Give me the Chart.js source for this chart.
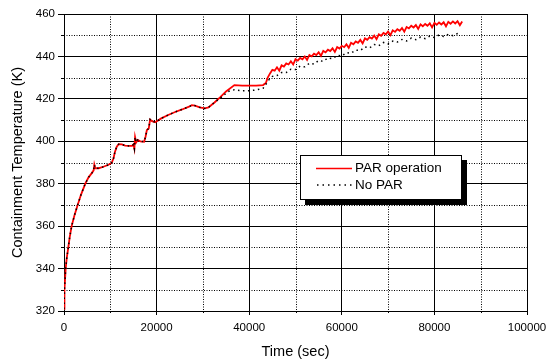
<!DOCTYPE html>
<html>
<head>
<meta charset="utf-8">
<script src="https://cdn.jsdelivr.net/npm/chart.js@4.4.1/dist/chart.umd.min.js"></script>
<style>
html,body{margin:0;padding:0;background:#fff;}
#wrap{position:relative;width:547px;height:362px;}
</style>
</head>
<body>
<div id="wrap"><canvas id="c" width="547" height="362"></canvas></div>
<script>
// ---- data ----
const seriesNames = ["PAR operation", "No PAR"];
const xTickLabels = ["0", "20000", "40000", "60000", "80000", "100000"];
const yTickLabels = ["320", "340", "360", "380", "400", "420", "440", "460"];

const commonTime = [0, 100, 360, 600, 930, 1250, 1650, 2250, 2950, 3700, 4600, 5300, 6000, 6400, 6550, 6750,
  7500, 8500, 9500, 10300, 10700, 11000, 11400, 11800, 12500, 13200, 14000, 14700, 15000, 15200, 15350, 15600,
  15900, 16500, 17300, 17600, 17900, 18300, 18600, 19000, 19700, 21000, 22500, 24000, 25500, 27000, 27600,
  28300, 29300, 30400, 31200, 32500];
const commonTemp = [321, 330, 340, 345, 350, 355, 360, 365, 370, 375, 380, 383, 385, 386.3, 389, 387.3,
  387.3, 388, 388.8, 389.8, 392, 395, 397.5, 398.6, 398.5, 398, 397.8, 397.8, 398.5, 396.5, 402, 399.5,
  400.6, 400, 399.8, 402, 405.3, 406, 410.3, 409.5, 409, 410.8, 412.4, 413.8, 415, 416.3, 417,
  416.8, 416, 415.5, 416, 418.3];

const parTimeLate = [33700, 35000, 36800, 38500, 40000, 41500, 43000, 43600, 44000, 44500, 45000, 45500, 46000, 46500,
  47000, 47500, 48000, 48500, 49000, 49500, 50000, 50500, 51000, 51500, 52000, 52500, 53000, 53500, 54000, 54500,
  55000, 55500, 56000, 56500, 57000, 57500, 58000, 58500, 59000, 59500, 60000, 60500, 61000, 61500, 62000, 62500,
  63000, 63500, 64000, 64500, 65000, 65500, 66000, 66500, 67000, 67500, 68000, 68500, 69000, 69500, 70000, 70500,
  71000, 71500, 72000, 72500, 73000, 73500, 74000, 74500, 75000, 75500, 76000, 76500, 77000, 77500, 78000, 78500,
  79000, 79500, 80000, 80500, 81000, 81500, 82000, 82500, 83000, 83500, 84000, 84500, 85000, 85500, 86000];
const parTempLate = [420.7, 423.5, 426.5, 426.2, 426.2, 426.2, 426.5, 427.5, 430.0, 432.0, 433.7, 433.3, 434.9, 433.3,
  435.8, 435.25, 436.7, 436.2, 437.7, 436.2, 438.7, 438.0, 439.3, 438.65, 440.0, 438.35, 440.7, 440.0, 441.3, 440.65,
  442.0, 440.3, 442.6, 441.9, 443.2, 442.5, 443.8, 442.1, 444.4, 443.7, 445.0, 444.35, 445.7, 444.05, 446.4, 445.75,
  447.1, 446.45, 447.8, 446.15, 448.5, 447.8, 449.1, 448.45, 449.8, 448.1, 450.4, 449.75, 451.1, 450.4, 451.7, 450.0,
  452.3, 451.55, 452.8, 452.1, 453.4, 451.65, 453.9, 453.2, 454.5, 453.65, 454.8, 452.95, 455.1, 454.2, 455.3, 454.45,
  455.6, 453.7, 455.8, 454.9, 456.0, 455.05, 456.1, 454.2, 456.3, 455.4, 456.5, 455.55, 456.6, 454.7, 456.5];

const noParTimeLate = [34000, 35500, 36800, 38500, 40000, 41500, 43000, 44500, 45000, 46000, 47000, 48000, 49000,
  50000, 51000, 52000, 53000, 54000, 55000, 56000, 57000, 58000, 59000, 60000, 61000, 62000, 63000, 64000, 65000,
  66000, 67000, 68000, 69000, 70000, 71000, 72000, 73000, 74000, 75000, 76000, 77000, 78000, 79000, 80000, 81000,
  82000, 83000, 84000, 85000, 85500];
const noParTempLate = [420.8, 423.5, 424.3, 423.8, 423.8, 424.2, 425, 429.7, 430.6, 431.0, 432.4, 432.4, 434.0,
  433.8, 435.4, 435.1, 436.8, 436.4, 438.1, 437.7, 439.3, 438.9, 440.5, 440.2, 441.8, 441.5, 443.0, 442.8, 444.5,
  444.0, 445.6, 445.1, 446.6, 445.9, 447.2, 446.8, 448.0, 447.3, 448.6, 447.9, 449.1, 448.4, 449.6, 448.9, 450.1,
  449.4, 450.4, 449.8, 450.8, 450.3];

const parTime = commonTime.concat(parTimeLate);
const parTemp = commonTemp.concat(parTempLate);
const noParTime = commonTime.concat(noParTimeLate);
const noParTemp = commonTemp.concat(noParTempLate);

const FONT = "'Liberation Sans', Arial, sans-serif";

function pts(xs, ys) { return xs.map((x, i) => ({x: x, y: ys[i]})); }

const decor = {
  id: 'decor',
  beforeDatasetsDraw(chart) {
    const ctx = chart.ctx, a = chart.chartArea;
    const xs = chart.scales.x, ys = chart.scales.y;
    ctx.save();
    ctx.strokeStyle = '#000';
    ctx.lineWidth = 1;
    for (let i = 0; i < ys.ticks.length - 1; i++) {
      const v = (ys.ticks[i].value + ys.ticks[i + 1].value) / 2;
      const p = Math.round(ys.getPixelForValue(v)) + 0.5;
      ctx.setLineDash([1, 1.5]);
      ctx.beginPath(); ctx.moveTo(a.left, p); ctx.lineTo(a.right, p); ctx.stroke();
      ctx.setLineDash([]);
      ctx.beginPath(); ctx.moveTo(a.left - 3, p); ctx.lineTo(a.left, p); ctx.stroke();
    }
    for (let i = 0; i < xs.ticks.length - 1; i++) {
      const v = (xs.ticks[i].value + xs.ticks[i + 1].value) / 2;
      const p = Math.round(xs.getPixelForValue(v)) + 0.5;
      ctx.setLineDash([1, 1.5]);
      ctx.beginPath(); ctx.moveTo(p, a.top); ctx.lineTo(p, a.bottom); ctx.stroke();
      ctx.setLineDash([]);
      ctx.beginPath(); ctx.moveTo(p, a.bottom); ctx.lineTo(p, a.bottom + 2); ctx.stroke();
    }
    ctx.restore();
  },
  afterDraw(chart) {
    const ctx = chart.ctx;
    ctx.save();
    const bx = 300, by = 155, bw = 161, bh = 44;
    ctx.fillStyle = '#000';
    ctx.fillRect(bx + 5, by + 5, bw + 1, bh + 1);
    ctx.fillStyle = '#fff';
    ctx.fillRect(bx, by, bw, bh);
    ctx.strokeStyle = '#000';
    ctx.lineWidth = 1;
    ctx.strokeRect(bx + 0.5, by + 0.5, bw, bh);
    ctx.strokeStyle = '#ff0000';
    ctx.lineWidth = 1.5;
    ctx.beginPath(); ctx.moveTo(316, 168.5); ctx.lineTo(352, 168.5); ctx.stroke();
    ctx.strokeStyle = '#000';
    ctx.setLineDash([1.5, 4]);
    ctx.beginPath(); ctx.moveTo(317, 185); ctx.lineTo(352, 185); ctx.stroke();
    ctx.setLineDash([]);
    ctx.fillStyle = '#000';
    ctx.font = '13.5px ' + FONT;
    ctx.textBaseline = 'middle';
    ctx.textAlign = 'left';
    ctx.fillText(seriesNames[0], 355, 168.5);
    ctx.fillText(seriesNames[1], 355, 185);
    ctx.restore();
  }
};

new Chart(document.getElementById('c'), {
  type: 'line',
  data: {
    datasets: [
      {
        label: seriesNames[1],
        data: pts(noParTime, noParTemp),
        borderColor: '#000',
        borderWidth: 1.5,
        borderDash: [1.5, 3.5],
        pointRadius: 0,
        tension: 0,
        fill: false
      },
      {
        label: seriesNames[0],
        data: pts(parTime, parTemp),
        borderColor: '#ff0000',
        borderWidth: 1.8,
        pointRadius: 0,
        tension: 0,
        fill: false
      }
    ]
  },
  options: {
    responsive: false,
    animation: false,
    events: [],
    layout: { padding: { top: 14, right: 20, left: 0, bottom: 0 } },
    plugins: { legend: { display: false }, tooltip: { enabled: false } },
    scales: {
      x: {
        type: 'linear',
        min: 0, max: 100000,
        afterFit(s) { s.height = 51; s.paddingLeft = 0; s.paddingRight = 0; },
        ticks: {
          stepSize: 20000,
          padding: 6,
          color: '#000',
          font: { family: FONT, size: 11.5 },
          maxRotation: 0,
          callback(v) { const i = Math.round(v / 20000); return xTickLabels[i] !== undefined ? xTickLabels[i] : ''; }
        },
        grid: { color: '#000', lineWidth: 1, tickLength: 4, tickColor: '#000' },
        border: { color: '#000', width: 1 },
        title: { display: true, text: 'Time (sec)', color: '#000', font: { family: FONT, size: 14.5 }, padding: { top: 0, bottom: 1 } }
      },
      y: {
        type: 'linear',
        min: 320, max: 460,
        afterFit(s) { s.width = 64; s.paddingTop = 0; s.paddingBottom = 0; },
        ticks: {
          stepSize: 20,
          padding: 3,
          color: '#000',
          font: { family: FONT, size: 11.5 },
          callback(v) { const i = Math.round((v - 320) / 20); return yTickLabels[i] !== undefined ? yTickLabels[i] : ''; }
        },
        grid: { color: '#000', lineWidth: 1, tickLength: 6, tickColor: '#000' },
        border: { color: '#000', width: 1 },
        title: { display: true, text: 'Containment Temperature (K)', color: '#000', font: { family: FONT, size: 14.5 }, padding: { top: 9, bottom: 0 } }
      }
    }
  },
  plugins: [decor]
});
</script>
</body>
</html>
